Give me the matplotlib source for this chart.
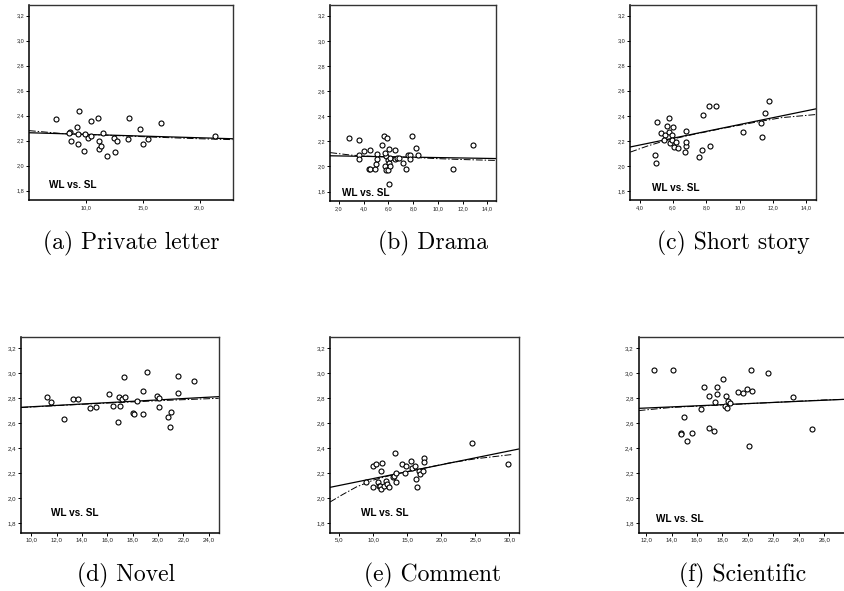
import numpy as np
import matplotlib
matplotlib.use('Agg')
import matplotlib.pyplot as plt
from matplotlib.ticker import FuncFormatter

# ---- data (SL on x, WL on y) ----
letter_x = [7.40, 8.57, 8.50, 8.74, 9.21, 9.36, 9.27, 9.30, 9.82, 9.97, 10.18,
            10.47, 10.44, 11.08, 11.17, 11.14, 11.35, 11.55, 11.90, 12.49, 12.60,
            12.78, 13.68, 13.83, 14.77, 15.00, 15.50, 16.64, 21.32]
letter_y = [2.37, 2.27, 2.26, 2.20, 2.31, 2.44, 2.25, 2.17, 2.12, 2.25, 2.22,
            2.36, 2.24, 2.38, 2.20, 2.13, 2.16, 2.26, 2.08, 2.22, 2.11,
            2.20, 2.21, 2.38, 2.29, 2.17, 2.21, 2.34, 2.24]

drama_x = [2.81, 3.65, 3.59, 3.59, 4.05, 4.51, 4.46, 4.54, 4.95, 5.00, 5.08,
           5.08, 5.49, 5.68, 5.86, 5.70, 5.78, 5.76, 5.81, 5.95, 6.00, 6.03,
           6.05, 6.14, 6.08, 6.16, 6.54, 6.54, 6.73, 6.89, 7.19, 7.43, 7.59,
           7.78, 7.73, 7.92, 8.27, 8.38, 11.19, 12.86]
drama_y = [2.23, 2.21, 2.09, 2.06, 2.12, 2.13, 1.98, 1.98, 1.98, 2.02, 2.10,
           2.06, 2.17, 2.24, 2.23, 2.00, 2.08, 2.11, 1.97, 1.97, 2.05, 2.14,
           2.03, 2.07, 1.86, 2.00, 2.13, 2.06, 2.07, 2.07, 2.03, 1.98, 2.09,
           2.09, 2.06, 2.24, 2.15, 2.09, 1.98, 2.17]

story_x = [4.90, 5.00, 5.06, 5.30, 5.50, 5.48, 5.62, 5.74, 5.76, 5.82, 5.92,
           5.98, 5.96, 6.04, 6.20, 6.32, 6.74, 6.76, 6.80, 6.80, 7.54, 7.76,
           7.78, 8.16, 8.22, 8.56, 10.20, 11.30, 11.34, 11.50, 11.78]
story_y = [2.09, 2.02, 2.35, 2.26, 2.25, 2.21, 2.32, 2.38, 2.27, 2.18, 2.25,
           2.31, 2.21, 2.15, 2.19, 2.14, 2.11, 2.16, 2.19, 2.28, 2.07, 2.13,
           2.41, 2.48, 2.16, 2.48, 2.27, 2.34, 2.23, 2.42, 2.52]

novel_x = [11.21, 11.53, 12.55, 13.32, 13.71, 14.63, 15.13, 16.13, 16.45,
           16.82, 16.95, 16.97, 17.16, 17.32, 17.42, 18.05, 18.10, 18.34,
           18.79, 18.84, 19.16, 19.92, 20.08, 20.10, 20.79, 20.95, 21.00,
           21.61, 21.58, 22.87]
novel_y = [2.81, 2.77, 2.63, 2.79, 2.79, 2.72, 2.73, 2.83, 2.74, 2.61, 2.81,
           2.74, 2.79, 2.97, 2.81, 2.68, 2.67, 2.78, 2.67, 2.86, 3.01, 2.82,
           2.73, 2.80, 2.65, 2.57, 2.69, 2.98, 2.84, 2.94]

comment_x = [8.92, 9.90, 10.00, 10.34, 10.69, 10.88, 10.98, 11.13, 11.23,
             11.18, 11.52, 11.91, 12.01, 12.35, 12.94, 13.04, 13.24, 13.28,
             13.38, 14.26, 14.71, 14.85, 15.59, 15.74, 16.08, 16.27, 16.47,
             16.76, 16.91, 17.25, 17.50, 17.50, 24.46, 29.75]
comment_y = [2.13, 2.09, 2.26, 2.27, 2.13, 2.10, 2.10, 2.22, 2.28, 2.07, 2.10,
             2.14, 2.11, 2.09, 2.17, 2.18, 2.36, 2.20, 2.13, 2.27, 2.20, 2.26,
             2.30, 2.24, 2.26, 2.15, 2.09, 2.22, 2.19, 2.22, 2.32, 2.29, 2.44,
             2.27]

sci_x = [12.63, 14.09, 14.98, 14.77, 14.77, 15.25, 15.61, 16.35, 16.58, 16.92,
         16.97, 17.31, 17.45, 17.58, 17.60, 18.07, 18.26, 18.18, 18.34, 18.47,
         18.60, 19.25, 19.64, 19.96, 20.25, 20.30, 20.09, 21.55, 23.57, 25.04]
sci_y = [3.02, 3.02, 2.65, 2.52, 2.51, 2.46, 2.52, 2.71, 2.89, 2.82, 2.56,
         2.54, 2.77, 2.89, 2.83, 2.95, 2.82, 2.74, 2.72, 2.78, 2.76, 2.85,
         2.84, 2.87, 3.02, 2.86, 2.42, 3.00, 2.81, 2.55]

# linear fit lines (intercept, slope) and loess-like dash-dot curves
fits = [(2.2765, -0.00268), (2.087, -0.00164), (2.057, 0.02734),
        (2.676, 0.00545), (2.047, 0.01103), (2.667, 0.00445)]
loess_x = [[5.0, 8.0, 12.0, 16.0, 20.0, 22.9],
           [1.3, 3.0, 5.0, 8.0, 10.0, 12.0, 14.7],
           [3.44, 4.5, 5.5, 7.0, 9.0, 11.0, 12.5, 14.56],
           [9.2, 13.0, 17.0, 21.0, 24.8],
           [3.63, 5.5, 7.5, 10.0, 13.0, 17.0, 21.0, 25.0, 30.5],
           [11.42, 14.0, 18.0, 22.0, 26.0, 27.8]]
loess_y = [[2.280, 2.256, 2.243, 2.228, 2.215, 2.208],
           [2.110, 2.090, 2.078, 2.072, 2.062, 2.055, 2.048],
           [2.110, 2.160, 2.200, 2.245, 2.300, 2.350, 2.385, 2.410],
           [2.724, 2.745, 2.765, 2.783, 2.798],
           [1.970, 2.030, 2.090, 2.145, 2.190, 2.235, 2.280, 2.315, 2.350],
           [2.700, 2.725, 2.745, 2.765, 2.785, 2.790]]

captions = ['(a) Private letter', '(b) Drama', '(c) Short story',
            '(d) Novel', '(e) Comment', '(f) Scientific']
xlims = [(5.03, 22.92), (1.30, 14.70), (3.44, 14.56),
         (9.21, 24.82), (3.63, 31.37), (11.42, 27.8)]
xticks = [[10, 15, 20], np.arange(2, 15, 2), np.arange(4, 15, 2),
          np.arange(10, 25, 2), np.arange(5, 31, 5), np.arange(12, 27, 2)]
yticks = np.arange(1.8, 3.21, 0.2)

# layout, pixel based
W, H = 844, 591
boxes = [(29.3, 5.0, 203.4, 195.0), (330.3, 5.0, 165.7, 196.0),
         (630.3, 5.0, 185.4, 195.3), (21.3, 337.3, 197.7, 195.4),
         (330.0, 337.3, 188.7, 195.4), (638.7, 337.3, 208.5, 195.4)]
label_pos = [(0.098, 0.077), (0.072, 0.042), (0.117, 0.061),
             (0.149, 0.102), (0.164, 0.102), (0.081, 0.070)]
cap_pos = [(131.7, 243), (433, 243), (733, 243),
           (126, 575), (433, 575), (742.5, 575)]

xs = [letter_x, drama_x, story_x, novel_x, comment_x, sci_x]
ys = [letter_y, drama_y, story_y, novel_y, comment_y, sci_y]

comma = FuncFormatter(lambda v, p: ('%.1f' % v).replace('.', ','))

fig = plt.figure(figsize=(W / 100, H / 100), dpi=100)

for i in range(6):
    l, t, w, h = boxes[i]
    ax = fig.add_axes([l / W, 1 - (t + h) / H, w / W, h / H])
    ax.plot(xs[i], ys[i], 'o', mfc='white', mec='black', ms=3.6, mew=0.8,
            zorder=3)
    a, b = fits[i]
    xl = np.array(xlims[i])
    ax.plot(xl, a + b * xl, '-', color='black', lw=0.9, zorder=2)
    ax.plot(loess_x[i], loess_y[i], color='black', lw=0.7,
            ls=(0, (7, 2, 1.5, 2)), zorder=2)
    ax.set_xlim(*xlims[i])
    ax.set_ylim(1.725, 3.285)
    ax.set_xticks(xticks[i])
    ax.set_yticks(yticks)
    ax.xaxis.set_major_formatter(comma)
    ax.yaxis.set_major_formatter(comma)
    fs = 4.0 if i < 3 else 4.4
    ax.tick_params(direction='out', length=2, width=0.7, pad=1.5,
                   labelsize=fs, labelcolor='#222222')
    for lab in ax.get_xticklabels() + ax.get_yticklabels():
        lab.set_family('Liberation Sans')
    for side in ['left', 'bottom']:
        ax.spines[side].set_linewidth(1.1)
        ax.spines[side].set_color('black')
    for side in ['top', 'right']:
        ax.spines[side].set_linewidth(1.0)
        ax.spines[side].set_color('#333333')
    ax.text(label_pos[i][0], label_pos[i][1], 'WL vs. SL',
            transform=ax.transAxes, fontsize=7.2, fontweight='bold',
            family='Liberation Sans', va='center', ha='left')
    fig.text(cap_pos[i][0] / W, 1 - cap_pos[i][1] / H, captions[i],
             family='cmr10', fontsize=17, ha='center', va='center')

fig.savefig('out.png', dpi=100)
